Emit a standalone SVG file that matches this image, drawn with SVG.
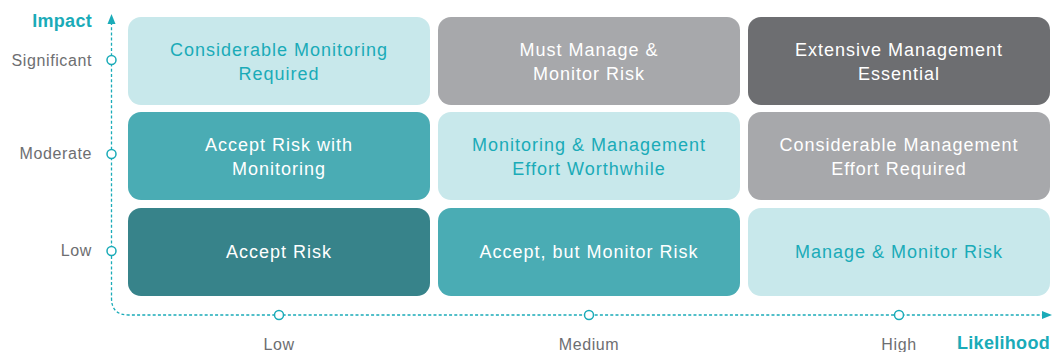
<svg xmlns="http://www.w3.org/2000/svg" width="1052" height="352" viewBox="0 0 1052 352">
<style>
.cell{stroke:none}
.light{fill:#c8e8eb}
.mid{fill:#4aacb4}
.dark{fill:#37838a}
.grey{fill:#a7a8ab}
.dgrey{fill:#6d6e71}
.t{font-family:"Liberation Sans",Arial,sans-serif;font-size:18px;letter-spacing:1px;text-anchor:middle}
.tw{fill:#ffffff}
.tt{fill:#1aabb8}
.ax{font-family:"Liberation Sans",Arial,sans-serif;font-size:16px;fill:#6d6e71;letter-spacing:0.6px}
.axt{font-family:"Liberation Sans",Arial,sans-serif;font-size:18px;font-weight:bold;fill:#1aabb8;letter-spacing:0.3px}
.axis{fill:none;stroke:#1aabb8;stroke-width:1.3;stroke-dasharray:3 2.2}
.tick{fill:#ffffff;stroke:#1aabb8;stroke-width:1.5}
.head{fill:#1aabb8}
</style>
<g id="connectors">
<path class="axis" d="M111.5,22 V298 Q111.5,315 128.5,315 H1045"/>
<polygon class="head" points="111.5,14 107.5,24 115.5,24"/>
<polygon class="head" points="1052,315 1042,311 1042,319"/>
<circle class="tick" cx="111.5" cy="60" r="4.5"/>
<circle class="tick" cx="111.5" cy="154" r="4.5"/>
<circle class="tick" cx="111.5" cy="251" r="4.5"/>
<circle class="tick" cx="279" cy="315" r="4.5"/>
<circle class="tick" cx="589" cy="315" r="4.5"/>
<circle class="tick" cx="899" cy="315" r="4.5"/>
</g>
<g id="axis-labels">
<text class="axt" x="92" y="27" text-anchor="end">Impact</text>
<text class="ax" x="92" y="66" text-anchor="end">Significant</text>
<text class="ax" x="92" y="159" text-anchor="end">Moderate</text>
<text class="ax" x="92" y="256" text-anchor="end">Low</text>
<text class="ax" x="279" y="350" text-anchor="middle">Low</text>
<text class="ax" x="589" y="350" text-anchor="middle">Medium</text>
<text class="ax" x="899" y="350" text-anchor="middle">High</text>
<text class="axt" x="1050" y="349" text-anchor="end">Likelihood</text>
</g>
<g id="cell-r1c1"><rect class="cell light" x="128" y="17" width="302" height="88" rx="13"/><text class="t tt" x="279" y="56">Considerable Monitoring</text><text class="t tt" x="279" y="80">Required</text></g>
<g id="cell-r1c2"><rect class="cell grey" x="438" y="17" width="302" height="88" rx="13"/><text class="t tw" x="589" y="56">Must Manage &amp;</text><text class="t tw" x="589" y="80">Monitor Risk</text></g>
<g id="cell-r1c3"><rect class="cell dgrey" x="748" y="17" width="302" height="88" rx="13"/><text class="t tw" x="899" y="56">Extensive Management</text><text class="t tw" x="899" y="80">Essential</text></g>
<g id="cell-r2c1"><rect class="cell mid" x="128" y="112" width="302" height="88" rx="13"/><text class="t tw" x="279" y="151">Accept Risk with</text><text class="t tw" x="279" y="175">Monitoring</text></g>
<g id="cell-r2c2"><rect class="cell light" x="438" y="112" width="302" height="88" rx="13"/><text class="t tt" x="589" y="151">Monitoring &amp; Management</text><text class="t tt" x="589" y="175">Effort Worthwhile</text></g>
<g id="cell-r2c3"><rect class="cell grey" x="748" y="112" width="302" height="88" rx="13"/><text class="t tw" x="899" y="151">Considerable Management</text><text class="t tw" x="899" y="175">Effort Required</text></g>
<g id="cell-r3c1"><rect class="cell dark" x="128" y="208" width="302" height="88" rx="13"/><text class="t tw" x="279" y="258">Accept Risk</text></g>
<g id="cell-r3c2"><rect class="cell mid" x="438" y="208" width="302" height="88" rx="13"/><text class="t tw" x="589" y="258">Accept, but Monitor Risk</text></g>
<g id="cell-r3c3"><rect class="cell light" x="748" y="208" width="302" height="88" rx="13"/><text class="t tt" x="899" y="258">Manage &amp; Monitor Risk</text></g>
</svg>
